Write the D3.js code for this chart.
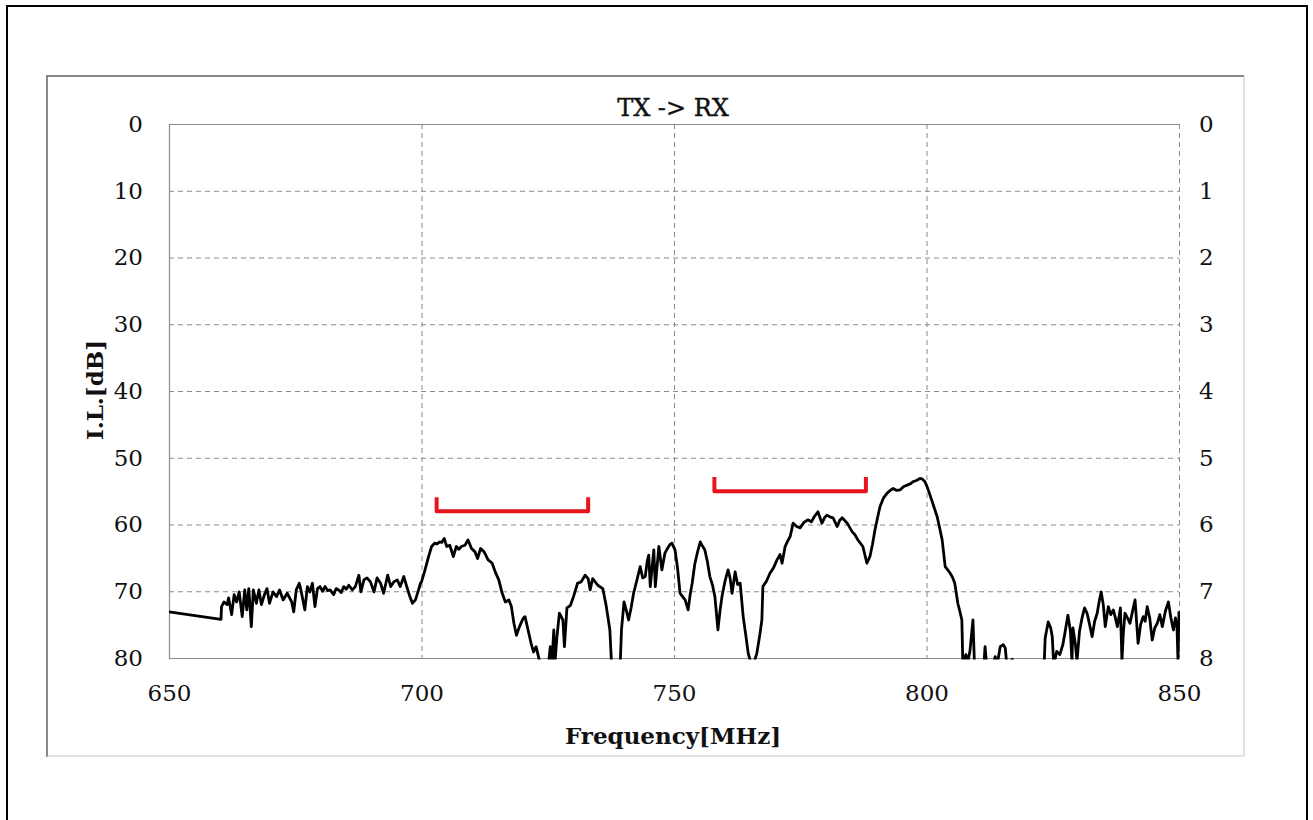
<!DOCTYPE html>
<html>
<head>
<meta charset="utf-8">
<script src="https://cdn.jsdelivr.net/npm/d3@7"></script>
<style>
body { margin: 0; background: #fff; }
svg text { font-family: "DejaVu Serif", serif; fill: #111; }
</style>
</head>
<body>
<script>
var freqMHz = [650, 660.3, 660.4, 660.9, 661.5, 661.8, 662.4, 662.9, 663.4, 663.9, 664.5, 665.0, 665.4, 665.8, 666.3, 666.7,
    667.3, 667.8, 668.3, 668.9, 669.4, 669.9, 670.6, 671.3, 671.9, 672.6, 673.4, 674.3, 674.7, 675.2, 675.8, 676.2,
    676.9, 677.4, 677.9, 678.4, 678.9, 679.4, 679.9, 680.4, 680.9, 681.4, 681.9, 682.6, 683.1, 683.6, 684.1, 684.6,
    685.1, 685.6, 686.3, 686.9, 687.6, 688.0, 688.6, 689.2, 689.9, 690.6, 691.2, 691.9, 692.5, 693.3, 693.9, 694.5,
    695.2, 695.8, 696.5, 697.0, 697.7, 698.2, 698.8, 699.3, 699.8, 700.0, 700.7, 701.4, 702.0, 702.6, 703.1, 703.6,
    704.0, 704.5, 705.0, 705.6, 706.3, 706.9, 707.4, 707.9, 708.6, 709.2, 709.9, 710.6, 711.1, 711.7, 712.4, 713.2,
    714.0, 714.6, 715.3, 715.9, 716.6, 717.3, 717.8, 718.3, 718.8, 719.4, 720.1, 720.5, 721.1, 721.7, 722.2, 722.7,
    723.1, 723.7, 725.0, 725.5, 725.8, 726.2, 726.4, 726.8, 727.3, 728.0, 728.3, 728.8, 729.5, 730.1, 730.9, 731.6,
    732.4, 733.0, 733.4, 733.9, 734.9, 735.9, 736.6, 737.3, 737.7, 739.3, 739.6, 740.1, 740.6, 741.0, 741.5, 742.0,
    742.6, 743.3, 743.8, 744.3, 744.7, 745.0, 745.3, 746.0, 746.3, 747.0, 747.6, 748.2, 748.7, 749.2, 749.6, 750.2,
    750.7, 751.2, 751.7, 752.2, 752.8, 753.2, 753.6, 754.1, 754.6, 755.2, 755.6, 756.1, 756.6, 757.1, 757.6, 758.1,
    758.7, 759.1, 759.5, 760.1, 760.7, 761.1, 761.5, 762.1, 762.6, 763.1, 763.7, 764.2, 764.7, 765.5, 766.4, 767.0,
    767.4, 767.6, 768.3, 769.0, 769.7, 770.4, 771.0, 771.4, 772.0, 772.5, 773.0, 773.6, 774.3, 775.0, 775.7, 776.5,
    777.2, 777.8, 778.5, 779.3, 779.8, 780.3, 781.0, 781.5, 782.3, 782.8, 783.3, 784.3, 785.3, 785.8, 786.4, 787.4,
    788.2, 788.8, 789.3, 789.8, 790.3, 790.8, 791.5, 792.2, 792.8, 793.4, 794.1, 794.8, 795.5, 796.2, 796.8, 797.3,
    798.0, 798.7, 799.2, 799.7, 800.2, 800.7, 801.4, 802.1, 802.6, 803.1, 803.7, 804.2, 804.7, 805.2, 805.6, 806.2,
    806.6, 807.0, 807.2, 807.8, 808.2, 808.6, 809.2, 809.5, 810.5, 811.4, 811.6, 811.9, 813.2, 813.6, 814.0, 814.6,
    815.2, 815.6, 815.9, 817.0, 817.3, 823.3, 823.5, 824.1, 824.6, 824.9, 825.2, 825.8, 826.4, 827.0, 827.4, 828.0,
    828.5, 828.8, 829.0, 829.5, 829.8, 830.3, 830.8, 831.3, 831.8, 832.3, 832.8, 833.3, 833.8, 834.2, 834.6, 835.0,
    835.4, 836.0, 836.5, 837.0, 837.4, 837.8, 838.4, 838.7, 839.0, 839.3, 839.8, 840.3, 840.8, 841.3, 841.9, 842.4,
    842.9, 843.3, 843.7, 844.2, 844.7, 845.2, 845.7, 846.2, 846.7, 847.3, 847.9, 848.4, 848.9, 849.3, 849.6, 849.8,
    850.0];

var lossDB = [73.1, 74.2, 72.3, 71.6, 72.0, 71.0, 73.5, 70.5, 71.6, 70.1, 73.8, 69.8, 72.8, 69.6, 75.3, 69.8,
    71.8, 69.8, 72.0, 70.5, 69.6, 71.8, 70.1, 70.8, 69.8, 71.3, 70.3, 71.6, 73.1, 69.8, 68.8, 70.1,
    72.8, 69.3, 70.1, 68.8, 72.3, 69.6, 69.3, 70.0, 69.3, 69.9, 69.8, 70.5, 69.6, 69.8, 70.2, 69.3,
    69.7, 69.1, 69.8, 69.3, 67.6, 70.1, 68.3, 68.0, 68.6, 70.1, 68.0, 68.8, 70.3, 67.6, 69.3, 68.6,
    68.3, 69.3, 67.8, 69.1, 70.8, 71.8, 71.3, 70.1, 68.8, 68.6, 66.8, 64.8, 63.3, 62.8, 62.9, 62.6,
    62.7, 62.1, 63.3, 63.1, 64.8, 63.3, 63.7, 63.3, 63.1, 62.3, 63.6, 64.1, 65.1, 63.6, 64.1, 65.3,
    65.8, 67.1, 68.3, 70.1, 71.6, 71.3, 72.3, 74.8, 76.6, 75.3, 74.1, 73.8, 75.8, 77.8, 79.1, 78.3,
    79.6, 81.4, 82.0, 78.3, 81.0, 75.8, 81.0, 77.0, 73.3, 74.3, 78.3, 72.5, 72.1, 70.8, 68.8, 68.6,
    67.6, 68.1, 69.8, 68.1, 69.1, 69.6, 72.3, 75.8, 82.0, 82.0, 75.8, 71.6, 73.0, 74.3, 72.5, 70.3,
    68.5, 66.3, 68.0, 67.8, 65.5, 64.6, 69.3, 63.8, 69.3, 63.3, 66.8, 64.3, 63.6, 63.0, 62.8, 63.8,
    66.5, 70.3, 70.8, 71.3, 72.8, 70.5, 68.8, 66.0, 64.3, 62.6, 63.2, 63.8, 65.5, 67.8, 69.0, 70.8,
    75.8, 73.0, 70.8, 68.5, 66.8, 68.0, 70.3, 67.1, 69.0, 68.8, 73.8, 76.5, 79.3, 81.5, 79.3, 76.5,
    74.3, 69.3, 68.5, 67.3, 66.5, 65.3, 64.5, 65.8, 63.3, 62.5, 61.8, 59.8, 60.3, 60.5, 59.7, 59.3,
    59.6, 58.8, 58.1, 59.8, 59.0, 58.6, 58.9, 59.0, 60.3, 59.4, 59.0, 59.8, 61.1, 61.5, 62.3, 63.3,
    65.8, 64.8, 63.0, 60.8, 59.0, 57.3, 56.0, 55.3, 54.9, 54.6, 54.9, 54.8, 54.3, 54.1, 53.9, 53.6,
    53.4, 53.1, 53.2, 53.6, 54.5, 55.6, 57.2, 58.8, 60.5, 62.3, 66.3, 66.8, 67.3, 68.0, 68.8, 71.8,
    73.0, 74.3, 81.0, 79.5, 80.5, 79.0, 74.3, 81.0, 81.0, 80.5, 78.3, 81.0, 81.0, 79.8, 81.0, 78.3,
    78.0, 78.5, 81.0, 80.2, 81.0, 81.0, 77.0, 74.6, 75.5, 76.8, 81.0, 79.0, 79.5, 78.0, 76.3, 73.6,
    76.0, 80.5, 75.5, 78.0, 80.5, 76.0, 74.0, 72.5, 73.3, 75.0, 76.8, 74.5, 73.3, 71.5, 70.1, 72.0,
    75.3, 72.3, 73.5, 72.8, 74.0, 75.3, 72.5, 80.5, 76.0, 73.3, 74.0, 74.8, 73.0, 71.3, 77.8, 75.0,
    73.8, 74.5, 72.3, 74.0, 77.3, 75.5, 74.8, 73.5, 75.3, 73.0, 71.6, 74.0, 75.8, 74.0, 75.3, 80.5,
    73.0];

// Axis ticks
var xTicks = [650, 700, 750, 800, 850];
var yTicks = [0, 10, 20, 30, 40, 50, 60, 70, 80];
var rightTicks = [0, 1, 2, 3, 4, 5, 6, 7, 8];

// Red pass-band brackets (MHz, dB level)
var bandStart = [703, 758];
var bandEnd = [733, 788];
var bandLevel = [58, 55];

var width = 1313, height = 820;
var plot = { left: 169, right: 1179, top: 124, bottom: 658 };

var svg = d3.select("body").append("svg")
    .attr("width", width)
    .attr("height", height);

// outer frame
svg.append("rect")
    .attr("x", 7).attr("y", 6)
    .attr("width", 1300).attr("height", 830)
    .attr("fill", "none")
    .attr("stroke", "#000")
    .attr("stroke-width", 2);

// chart area frame: darker top/left, lighter right/bottom
svg.append("path").attr("d", "M47,757V76H1244")
    .attr("fill", "none").attr("stroke", "#888").attr("stroke-width", 2);
svg.append("path").attr("d", "M1244,76V756H47")
    .attr("fill", "none").attr("stroke", "#c4c4c4").attr("stroke-width", 1);

var x = d3.scaleLinear().domain([650, 850]).range([plot.left, plot.right]);
var y = d3.scaleLinear().domain([0, 80]).range([plot.top, plot.bottom]);
var yRight = d3.scaleLinear().domain([0, 8]).range([plot.top, plot.bottom]);

// grid
var grid = svg.append("g");
grid.selectAll(".hg")
    .data(yTicks.slice(1, -1))
    .enter().append("line")
    .attr("x1", plot.left).attr("x2", plot.right)
    .attr("y1", function (d) { return y(d) + 0.5; })
    .attr("y2", function (d) { return y(d) + 0.5; })
    .attr("stroke", "#8a8a8a")
    .attr("stroke-dasharray", "5,4");
grid.selectAll(".vg")
    .data(xTicks.slice(1))
    .enter().append("line")
    .attr("y1", plot.top).attr("y2", plot.bottom)
    .attr("x1", function (d) { return x(d) + 0.5; })
    .attr("x2", function (d) { return x(d) + 0.5; })
    .attr("stroke", "#8a8a8a")
    .attr("stroke-dasharray", "5,4");

// plot border (left, top, bottom solid)
svg.append("path")
    .attr("d", "M" + plot.right + "," + (plot.top + 0.5) + "H" + (plot.left + 0.5) + "V" + (plot.bottom + 0.5) + "H" + plot.right)
    .attr("fill", "none")
    .attr("stroke", "#8a8a8a")
    .attr("stroke-width", 1.2);

// axes
var axisFont = 23;
var xAxis = svg.append("g")
    .attr("transform", "translate(0," + plot.bottom + ")")
    .call(d3.axisBottom(x).tickValues(xTicks).tickSize(0).tickPadding(27));
var yAxis = svg.append("g")
    .attr("transform", "translate(" + plot.left + ",0)")
    .call(d3.axisLeft(y).tickValues(yTicks).tickSize(0).tickPadding(26));
var yAxisR = svg.append("g")
    .attr("transform", "translate(" + plot.right + ",0)")
    .call(d3.axisRight(yRight).tickValues(rightTicks).tickSize(0).tickPadding(20));

[xAxis, yAxis, yAxisR].forEach(function (g) {
    g.select(".domain").remove();
    g.selectAll("text")
        .style("font-family", "'DejaVu Serif', serif")
        .style("font-size", axisFont + "px")
        .attr("fill", "#111");
});

// clip the trace to the plot
svg.append("clipPath").attr("id", "plotClip")
    .append("rect")
    .attr("x", plot.left).attr("y", plot.top)
    .attr("width", plot.right - plot.left + 1)
    .attr("height", plot.bottom - plot.top + 1.5);

var line = d3.line()
    .x(function (d, i) { return x(freqMHz[i]); })
    .y(function (d) { return y(d); });

svg.append("path")
    .datum(lossDB)
    .attr("clip-path", "url(#plotClip)")
    .attr("d", line)
    .attr("fill", "none")
    .attr("stroke", "#000")
    .attr("stroke-width", 2.8)
    .attr("stroke-linejoin", "round");

// red band brackets
var bandTick = 2.1;
svg.selectAll(".band")
    .data(bandStart)
    .enter().append("path")
    .attr("d", function (d, i) {
        return "M" + x(d) + "," + y(bandLevel[i] - bandTick) +
            "V" + y(bandLevel[i]) +
            "H" + x(bandEnd[i]) +
            "V" + y(bandLevel[i] - bandTick);
    })
    .attr("fill", "none")
    .attr("stroke", "#e8141c")
    .attr("stroke-width", 4)
    .attr("stroke-linejoin", "round");

// titles
svg.append("text")
    .attr("x", 673).attr("y", 116)
    .attr("text-anchor", "middle")
    .style("font-size", "24px")
    .style("stroke", "#111")
    .style("stroke-width", 0.4)
    .text("TX -> RX");

svg.append("text")
    .attr("x", 673).attr("y", 744)
    .attr("text-anchor", "middle")
    .style("font-size", "23px")
    .style("font-weight", "bold")
    .text("Frequency[MHz]");

svg.append("text")
    .attr("transform", "translate(103,390) rotate(-90)")
    .attr("text-anchor", "middle")
    .style("font-size", "23px")
    .style("font-weight", "bold")
    .text("I.L.[dB]");
</script>
</body>
</html>
